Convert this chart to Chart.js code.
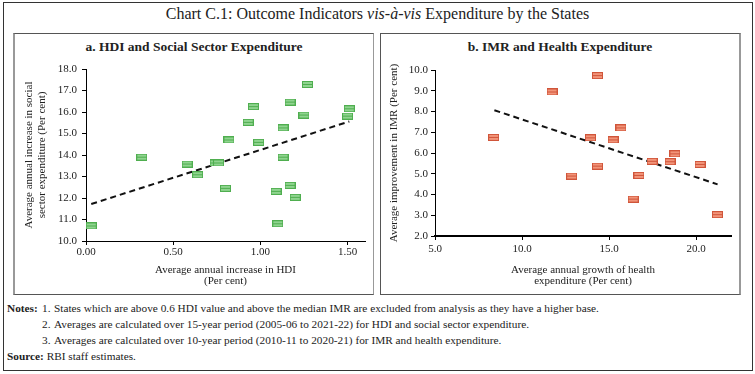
<!DOCTYPE html>
<html>
<head>
<meta charset="utf-8">
<script src="https://cdn.jsdelivr.net/npm/chart.js@4"></script>
<style>
  body { margin: 0; background: #fff; font-family: "Liberation Serif", serif; color: #222; }
  #frame { position: absolute; left: 3px; top: 2px; width: 748px; height: 367px; border: 1px solid #333; }
  #title { position: absolute; left: 0; top: 5px; width: 755px; text-align: center; font-size: 16px; }
  .panel { position: absolute; top: 33px; width: 358px; height: 260px; border: 1px solid #555; }
  #pa { left: 13px; border-left: 2px solid #999; border-right-color: #999; }
  #pb { left: 380px; border-right: 2px solid #999; }
  .ptitle { position: absolute; left: 0; top: 5px; width: 100%; text-align: center; font-weight: bold; font-size: 13.5px; }
  .panel canvas { position: absolute; left: 0; top: 5px; }
  #notes { position: absolute; left: 7px; top: 300px; font-size: 11.3px; line-height: 16px; }
  #notes div { white-space: nowrap; }
  .n { display: inline-block; width: 35px; font-weight: bold; }
  .k { display: inline-block; width: 12px; }
</style>
</head>
<body>
<div id="frame"></div>
<div id="title">Chart C.1: Outcome Indicators <i>vis-à-vis</i> Expenditure by the States</div>
<div class="panel" id="pa"><div class="ptitle">a. HDI and Social Sector Expenditure</div><canvas id="ca" width="356" height="254"></canvas></div>
<div class="panel" id="pb"><div class="ptitle">b. IMR and Health Expenditure</div><canvas id="cb" width="356" height="254"></canvas></div>
<div id="notes">
  <div><span class="n">Notes:</span><span class="k">1.</span>States which are above 0.6 HDI value and above the median IMR are excluded from analysis as they have a higher base.</div>
  <div><span class="n"></span><span class="k">2.</span>Averages are calculated over 15-year period (2005-06 to 2021-22) for HDI and social sector expenditure.</div>
  <div><span class="n"></span><span class="k">3.</span>Averages are calculated over 10-year period (2010-11 to 2020-21) for IMR and health expenditure.</div>
  <div><b>Source:</b> RBI staff estimates.</div>
</div>
<script>
// panel a: HDI vs social sector expenditure
const hdiX = [0.03, 0.32, 0.58, 0.64, 0.74, 0.76, 0.80, 0.82, 0.93, 0.96, 0.99, 1.09, 1.10, 1.13, 1.13, 1.17, 1.17, 1.20, 1.25, 1.27, 1.50, 1.51];
const socialY = [10.7, 13.9, 13.58, 13.08, 13.63, 13.63, 12.45, 14.7, 15.52, 16.25, 14.59, 12.31, 10.8, 15.26, 13.9, 16.46, 12.59, 12.03, 15.86, 17.28, 15.81, 16.15];
const trendAX = [0.03, 1.51];
const trendAY = [11.72, 15.56];
const ticksAX = [0, 0.5, 1, 1.5];

// panel b: health expenditure vs IMR
const healthX = [8.37, 11.72, 12.85, 13.93, 14.33, 14.33, 15.23, 15.68, 16.38, 16.71, 17.47, 18.5, 18.78, 20.22, 21.22];
const imrY = [6.75, 8.94, 4.89, 6.73, 9.73, 5.37, 6.63, 7.21, 3.78, 4.92, 5.6, 5.58, 5.96, 5.45, 3.03];
const trendBX = [8.41, 21.23];
const trendBY = [8.06, 4.49];
const ticksBX = [5, 10, 15, 20];

// little striped rectangles like the original markers
function marker(fill, line) {
  const c = document.createElement("canvas");
  c.width = 11; c.height = 7;
  const g = c.getContext("2d");
  g.fillStyle = fill; g.fillRect(0, 0, 11, 7);
  g.fillStyle = line;
  g.fillRect(0, 0, 11, 1); g.fillRect(0, 6, 11, 1);
  g.fillRect(0, 3, 11, 1);
  g.fillRect(0, 0, 1, 7); g.fillRect(10, 0, 1, 7);
  return c;
}

const pts = (xs, ys) => xs.map((x, i) => ({ x: x, y: ys[i] }));
const fnt = { family: "Liberation Serif", size: 11 };

function makeChart(id, o) {
  return new Chart(document.getElementById(id), {
    type: "scatter",
    data: {
      datasets: [
        { data: pts(o.xs, o.ys), pointStyle: o.mark, pointRadius: 5, pointHoverRadius: 5 },
        { data: pts(o.tx, o.ty), showLine: true, borderColor: "#111", borderWidth: 2, borderDash: [6, 4], pointRadius: 0 }
      ]
    },
    options: {
      responsive: false,
      animation: false,
      layout: { padding: { left: 0, right: o.padR, top: o.padT, bottom: 0 } },
      plugins: { legend: { display: false }, tooltip: { enabled: false } },
      scales: {
        x: {
          type: "linear", min: o.xmin, max: o.xmax,
          afterBuildTicks: s => { s.ticks = o.xticks.map(v => ({ value: v })); },
          afterFit: s => { s.height = o.xh; },
          grid: { drawOnChartArea: false, color: "#000", tickLength: 4 },
          border: { color: "#000", width: o.xbw },
          ticks: { color: "#222", font: fnt, padding: o.xpad, callback: v => v.toFixed(o.xdec) },
          title: { display: true, text: o.xtitle, color: "#222", font: { family: "Liberation Serif", size: 11, lineHeight: 1.05 }, padding: { top: 0, bottom: 6 } }
        },
        y: {
          min: o.ymin, max: o.ymax,
          ticks: { stepSize: 1, color: "#222", font: fnt, padding: o.ypad, callback: v => v.toFixed(1) },
          afterFit: s => { s.width = o.yw; },
          grid: { drawOnChartArea: false, color: "#000", tickLength: 4 },
          border: { color: "#000", width: 1 },
          title: { display: true, text: o.ytitle, color: "#222", font: { family: "Liberation Serif", size: 11, lineHeight: 1.15 }, padding: { top: o.ytp, bottom: 0 } }
        }
      }
    }
  });
}

makeChart("ca", {
  xs: hdiX, ys: socialY, tx: trendAX, ty: trendAY, mark: marker("#8fd48f", "#4fae4f"),
  xmin: 0, xmax: 1.6, xticks: ticksAX, xdec: 2, ymin: 10, ymax: 18,
  padR: 6, padT: 30, xh: 52, yw: 71, xbw: 1, xpad: 1, ypad: 5, ytp: 8,
  xtitle: ["Average annual increase in HDI", "(Per cent)"],
  ytitle: ["Average annual increase in social", "sector expenditure (Per cent)"]
});

makeChart("cb", {
  xs: healthX, ys: imrY, tx: trendBX, ty: trendBY, mark: marker("#f29479", "#d0553a"),
  xmin: 5, xmax: 22, xticks: ticksBX, xdec: 1, ymin: 2, ymax: 10,
  padR: 5, padT: 31, xh: 57, yw: 54, xbw: 2, xpad: 3, ypad: 3, ytp: 7,
  xtitle: ["Average annual growth of health", "expenditure (Per cent)"],
  ytitle: "Average improvement in IMR (Per cent)"
});
</script>
</body>
</html>
